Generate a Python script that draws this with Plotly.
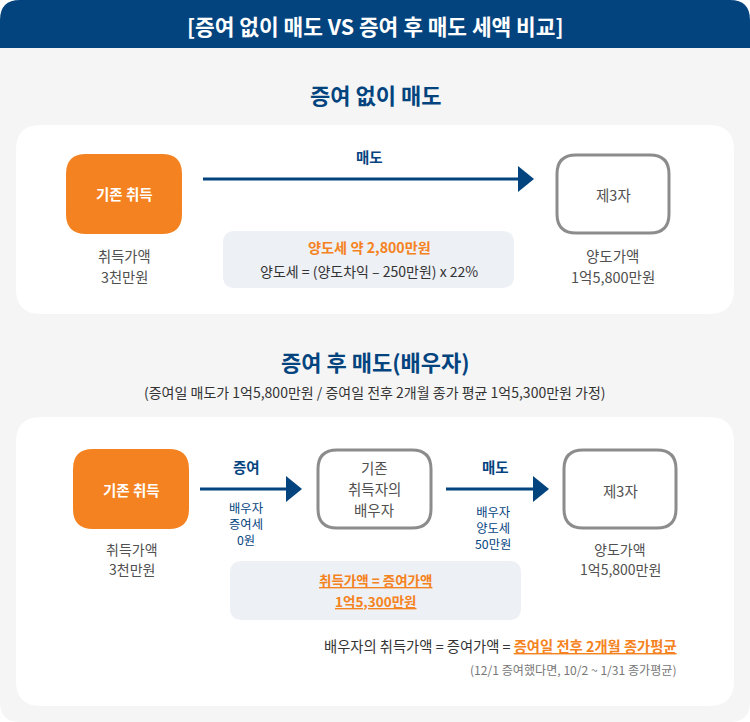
import plotly.graph_objects as go

NAVY = "#03447f"
ORANGE = "#f58220"
GREY = "#8c8c8c"
BG = "#f5f5f5"
PANEL = "#edf0f5"
TXT = "#333333"
LBL = "#505050"
FONT = "Noto Sans CJK KR"

header = "[증여 없이 매도 VS 증여 후 매도 세액 비교]"
sec1 = "증여 없이 매도"
sec2 = "증여 후 매도(배우자)"
sec2_sub = "(증여일 매도가 1억5,800만원 / 증여일 전후 2개월 종가 평균 1억5,300만원 가정)"
orig = "기존 취득"
third = "제3자"
acq = ["취득가액", "3천만원"]
sale = ["양도가액", "1억5,800만원"]
sell = "매도"
gift = "증여"
tax_title = "양도세 약 2,800만원"
tax_formula = "양도세 = (양도차익 – 250만원) x 22%"
spouse = ["기존", "취득자의", "배우자"]
gift_tax = ["배우자", "증여세", "0원"]
sell_tax = ["배우자", "양도세", "50만원"]
panel2 = ["<u>취득가액 = 증여가액</u>", "<u>1억5,300만원</u>"]
note_a = "배우자의 취득가액 = 증여가액 = "
note_b = "증여일 전후 2개월 종가평균"
note_c = "(12/1 증여했다면, 10/2 ~ 1/31 종가평균)"


def rr(x0, y0, x1, y1, r):
    return (f"M{x0+r},{y0} L{x1-r},{y0} Q{x1},{y0} {x1},{y0+r} L{x1},{y1-r} Q{x1},{y1} {x1-r},{y1} "
            f"L{x0+r},{y1} Q{x0},{y1} {x0},{y1-r} L{x0},{y0+r} Q{x0},{y0} {x0+r},{y0} Z")


shapes = []


def box(x0, y0, x1, y1, r, fill, line=None, w=0):
    shapes.append(dict(type="path", path=rr(x0, y0, x1, y1, r), fillcolor=fill,
                       line=dict(color=line or fill, width=w), layer="below"))


def arrow(x0, x1, y, hw=13, hl=16):
    shapes.append(dict(type="line", x0=x0, x1=x1 - hl + 1, y0=y, y1=y, line=dict(color=NAVY, width=3)))
    shapes.append(dict(type="path", path=f"M{x1-hl},{y-hw} L{x1},{y} L{x1-hl},{y+hw} Z",
                       fillcolor=NAVY, line=dict(width=0)))


box(0, 0, 750, 722, 20, BG)
shapes.append(dict(type="path", path="M0,48 L0,20 Q0,0 20,0 L730,0 Q750,0 750,20 L750,48 Z",
                   fillcolor=NAVY, line=dict(width=0), layer="below"))
box(16, 125, 734, 314, 25, "white")
box(16, 417, 734, 706, 25, "white")
box(66, 154, 182, 234, 20, ORANGE)
box(557, 155, 669, 233, 19, "white", GREY, 3)
arrow(203, 534, 179)
box(223, 231, 514, 288, 12, PANEL)
box(73, 449, 189, 529, 20, ORANGE)
box(318, 450, 431, 528, 19, "white", GREY, 3)
box(564, 450, 676, 528, 19, "white", GREY, 3)
arrow(200, 302, 489)
arrow(446, 549, 489)
box(230, 561, 521, 620, 12, PANEL)

ann = []


def t(x, y, s, size, color=TXT, bold=False, align="center"):
    ann.append(dict(x=x, y=y, xref="x", yref="y", text=f"<b>{s}</b>" if bold else s, showarrow=False,
                    font=dict(family=FONT, size=size, color=color), align=align,
                    xanchor={"center": "center", "right": "right"}[align], yanchor="middle"))


def lines(x, ys, ss, size, color=TXT, bold=False):
    for y, s in zip(ys, ss):
        t(x, y, s, size, color, bold)


t(375, 25, header, 21.4, "white", True)
t(375, 94, sec1, 22, NAVY, True)
t(375, 361, sec2, 22, NAVY, True)
t(375, 392, sec2_sub, 14, TXT)
t(124, 193, orig, 14.5, "white", True)
t(613, 194, third, 14.5, LBL)
lines(124, [255, 276], acq, 14.3, LBL)
lines(612.5, [255, 276], sale, 14.5, LBL)
t(369, 156, sell, 14.5, NAVY, True)
t(369, 247, tax_title, 14.2, ORANGE, True)
t(369, 271, tax_formula, 14, TXT)
t(131, 489, orig, 14.5, "white", True)
lines(374, [467, 488, 509], spouse, 14.5, LBL)
t(620, 490, third, 14.5, LBL)
lines(132, [549, 569], acq, 14, LBL)
lines(620, [549, 569], sale, 14, LBL)
t(246, 466, gift, 14.5, NAVY, True)
t(495, 466, sell, 14.5, NAVY, True)
t(246, 523.5, "<br>".join(gift_tax), 12.3, NAVY)
t(493, 527.5, "<br>".join(sell_tax), 12.3, NAVY)
lines(375, [580, 601], panel2, 13.5, ORANGE, True)
t(679, 645, f"{note_a}<span style='color:{ORANGE}'><b><u>{note_b}</u></b></span>", 14.3, TXT, align="right")
t(679, 669, note_c, 12.1, "#777777", align="right")

fig = go.Figure()
fig.update_layout(
    width=750, height=722, margin=dict(l=0, r=0, t=0, b=0),
    paper_bgcolor="white", plot_bgcolor="white", showlegend=False,
    xaxis=dict(range=[0, 750], visible=False, fixedrange=True),
    yaxis=dict(range=[722, 0], visible=False, fixedrange=True),
    shapes=shapes, annotations=ann,
)
fig.write_html("out.html", config=dict(displayModeBar=False),
               post_script="document.body.style.margin='0';document.body.style.overflow='hidden';")
